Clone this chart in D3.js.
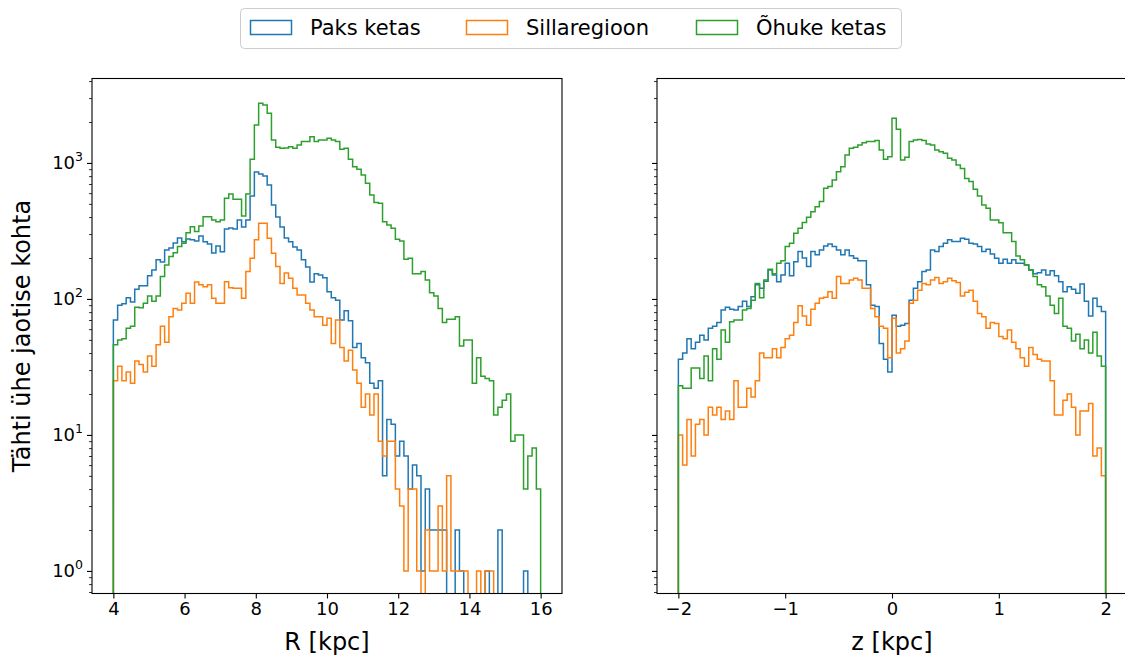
<!DOCTYPE html>
<html><head><meta charset="utf-8">
<script src="https://cdn.jsdelivr.net/npm/d3@7"></script>
<style>
body{margin:0;background:#fff}
svg{display:block}
text{font-family:"DejaVu Sans",sans-serif;fill:#000}
</style>
</head><body>
<svg id="c" width="1125" height="657"></svg>
<script>
// ---------------- data ----------------
const seriesNames = ["Paks ketas", "Sillaregioon", "Õhuke ketas"];
const seriesColors = ["#1f77b4", "#ff7f0e", "#2ca02c"];
const rRange = [4, 16];
const zRange = [-2, 2];
const nBins = 100;

// counts per bin, R histogram (4..16 kpc)
const rPaks = [70,90,92,102,95,118,125,125,148,163,
  194,187,229,237,258,281,263,276,272,267,
  290,263,254,218,245,222,327,333,327,381,
  338,381,571,859,830,802,689,491,401,338,
  281,263,241,229,194,172,133,153,150,143,
  113,102,98,70,82,69,44,47,37,34,
  24,22,25,5,13,12,7,9,7,4,
  6,5,1,4,2,2,2,2,0,0,
  2,1,0,0,0,0,0,1,0,0,
  2,0,0,0,0,0,1,0,0,0];
const rSilla = [25,32,25,29,24,35,33,29,38,32,
  46,63,48,74,85,83,93,110,93,133,
  127,123,127,101,93,93,134,121,120,120,
  101,159,199,272,360,360,279,217,173,130,
  155,142,120,107,107,93,83,74,74,64,
  72,47,70,44,35,42,30,24,16,20,
  14,20,9,7,9,9,4,3,1,4,
  4,1,0,2,1,1,3,1,5,1,
  1,1,1,0,0,1,0,1,1,0,
  0,0,0,0,0,0,0,0,0,0];
const rOhuke = [46,50,51,61,63,87,86,93,105,96,
  105,146,178,205,219,243,257,307,340,313,
  344,403,403,381,370,381,550,592,541,540,
  408,592,1065,1902,2750,2670,2318,1476,1304,1282,
  1290,1318,1282,1356,1435,1435,1560,1435,1476,1476,
  1518,1476,1435,1260,1282,1065,939,899,816,710,
  582,511,506,370,350,331,275,267,196,199,
  153,153,159,138,111,105,85,67,71,71,
  74,45,50,50,24,37,27,26,25,14,
  16,18,20,9,10,10,4,7,8,4];

// counts per bin, z histogram (-2..2 kpc)
const zPaks = [36,40,51,43,48,54,50,61,63,67,
  83,87,84,83,88,96,88,104,127,120,
  135,163,150,134,150,183,148,188,223,200,
  173,223,211,229,245,254,243,229,211,229,
  208,199,191,191,127,90,88,47,36,29,
  76,63,64,66,98,120,134,159,163,229,
  223,243,257,272,265,265,280,275,257,254,
  243,223,232,214,199,183,196,183,194,183,
  183,178,163,153,156,163,150,161,148,134,
  113,123,118,110,129,96,75,101,88,81];
const zSilla = [10,6,13,7,12,13,10,16,14,16,
  13,15,13,25,16,16,22,19,25,40,
  37,37,43,37,44,51,54,67,89,75,
  64,84,93,101,103,113,101,146,130,130,
  138,142,138,120,120,85,74,63,61,37,
  72,40,43,49,93,98,116,130,127,138,
  144,130,134,142,136,132,105,112,116,96,
  78,74,61,67,66,53,51,59,48,43,
  37,32,44,39,36,35,35,25,14,14,
  18,20,16,10,15,15,17,7,8,5];
const zOhuke = [23,22,22,31,31,26,38,25,43,36,
  59,48,68,70,70,83,85,98,130,102,
  138,165,153,183,191,243,257,304,331,365,
  398,438,477,520,652,670,750,863,939,1145,
  1282,1304,1356,1410,1435,1435,1460,1247,1065,1112,
  2133,1770,1052,1102,1435,1476,1490,1460,1380,1356,
  1247,1211,1178,1083,1050,965,910,770,729,640,
  572,491,464,381,381,364,307,307,264,207,
  194,178,163,146,127,123,105,90,78,101,
  63,61,49,55,43,50,40,57,38,32];

const rTicks = [4, 6, 8, 10, 12, 14, 16];
const zTicks = [-2, -1, 0, 1, 2];
const yMajorExps = [0, 1, 2, 3];
const xLabels = ["R [kpc]", "z [kpc]"];
const yLabel = "Tähti ühe jaotise kohta";

// ---------------- layout ----------------
const svg = d3.select("#c");
const yTop = 78.5, yBot = 593.5;
const yDomain = [Math.pow(10, -0.166), Math.pow(10, 3.621)];
const y = d3.scaleLog().domain(yDomain).range([yBot, yTop]);

function pad(r) { const m = (r[1] - r[0]) * 0.05; return [r[0] - m, r[1] + m]; }

const panels = [
  { range: rRange, px: [92, 562], ticks: rTicks, data: [rPaks, rSilla, rOhuke], label: xLabels[0], yLabels: true },
  { range: zRange, px: [657, 1127], ticks: zTicks, data: [zPaks, zSilla, zOhuke], label: xLabels[1], yLabels: false }
];

const fmtTick = d => (d < 0 ? "\u2212" + Math.abs(d) : String(d));

// minor y ticks
const minorVals = [];
for (let e = -1; e <= 3; e++) for (let k = 2; k <= 9; k++) {
  const v = k * Math.pow(10, e);
  if (v >= yDomain[0] && v <= yDomain[1]) minorVals.push(v);
}

panels.forEach((p, pi) => {
  const x = d3.scaleLinear().domain(pad(p.range)).range(p.px);
  const edges = d3.range(nBins + 1).map(i => p.range[0] + (p.range[1] - p.range[0]) * i / nBins);
  const g = svg.append("g");
  const clipId = "clip" + pi;
  svg.append("clipPath").attr("id", clipId).append("rect")
    .attr("x", p.px[0]).attr("y", yTop).attr("width", p.px[1] - p.px[0]).attr("height", yBot - yTop);

  const yv = v => (v > 0 ? y(v) : yBot + 60);
  p.data.forEach((vals, si) => {
    const pts = [[x(edges[0]), yBot + 60]];
    vals.forEach((v, i) => { pts.push([x(edges[i]), yv(v)]); pts.push([x(edges[i + 1]), yv(v)]); });
    pts.push([x(edges[nBins]), yBot + 60]);
    g.append("path").attr("clip-path", `url(#${clipId})`)
      .attr("d", d3.line()(pts))
      .attr("fill", "none").attr("stroke", seriesColors[si]).attr("stroke-width", 1.5)
      .attr("stroke-linejoin", "miter");
  });

  // x axis
  const xa = svg.append("g").attr("transform", `translate(0,${yBot})`)
    .call(d3.axisBottom(x).tickValues(p.ticks).tickSize(5).tickPadding(4).tickFormat(fmtTick));
  xa.select(".domain").remove();
  xa.selectAll(".tick line").attr("stroke", "#000").attr("stroke-width", 1.1);
  xa.selectAll(".tick text").attr("font-size", "18px").attr("font-family", "DejaVu Sans").attr("fill", "#000");

  // y axis (major)
  const ya = svg.append("g").attr("transform", `translate(${p.px[0]},0)`)
    .call(d3.axisLeft(y).tickValues(yMajorExps.map(e => Math.pow(10, e))).tickSize(5).tickFormat(""));
  ya.select(".domain").remove();
  ya.selectAll(".tick line").attr("stroke", "#000").attr("stroke-width", 1.1);
  const ym = svg.append("g").attr("transform", `translate(${p.px[0]},0)`)
    .call(d3.axisLeft(y).tickValues(minorVals).tickSize(3).tickFormat(""));
  ym.select(".domain").remove();
  ym.selectAll(".tick line").attr("stroke", "#000").attr("stroke-width", 0.8);

  if (p.yLabels) {
    yMajorExps.forEach(e => {
      const t = svg.append("text").attr("x", p.px[0] - 9).attr("y", y(Math.pow(10, e)) + 6.5)
        .attr("text-anchor", "end").attr("font-size", "18px");
      t.append("tspan").text("10");
      t.append("tspan").attr("font-size", "12.5px").attr("dy", "-8.5").text(String(e));
    });
  }

  // frame
  svg.append("rect").attr("x", p.px[0]).attr("y", yTop)
    .attr("width", p.px[1] - p.px[0]).attr("height", yBot - yTop)
    .attr("fill", "none").attr("stroke", "#000").attr("stroke-width", 1.1);

  // x label
  svg.append("text").attr("x", (p.px[0] + p.px[1]) / 2).attr("y", 650)
    .attr("text-anchor", "middle").attr("font-size", "24px").text(p.label);
});

// y label
svg.append("text").attr("transform", `translate(30,${(yTop + yBot) / 2}) rotate(-90)`)
  .attr("text-anchor", "middle").attr("font-size", "24px").text(yLabel);

// legend
const leg = svg.append("g");
leg.append("rect").attr("x", 240.5).attr("y", 8.5).attr("width", 661).attr("height", 40)
  .attr("rx", 4).attr("fill", "#fff").attr("fill-opacity", 0.8).attr("stroke", "#cccccc").attr("stroke-width", 1);
const legX = [250, 466, 696];
seriesNames.forEach((n, i) => {
  leg.append("rect").attr("x", legX[i] + 0.5).attr("y", 20.5).attr("width", 41).attr("height", 14)
    .attr("fill", "none").attr("stroke", seriesColors[i]).attr("stroke-width", 1.5);
  leg.append("text").attr("x", legX[i] + 60).attr("y", 35).attr("font-size", "21px").text(n);
});
</script>
</body></html>
